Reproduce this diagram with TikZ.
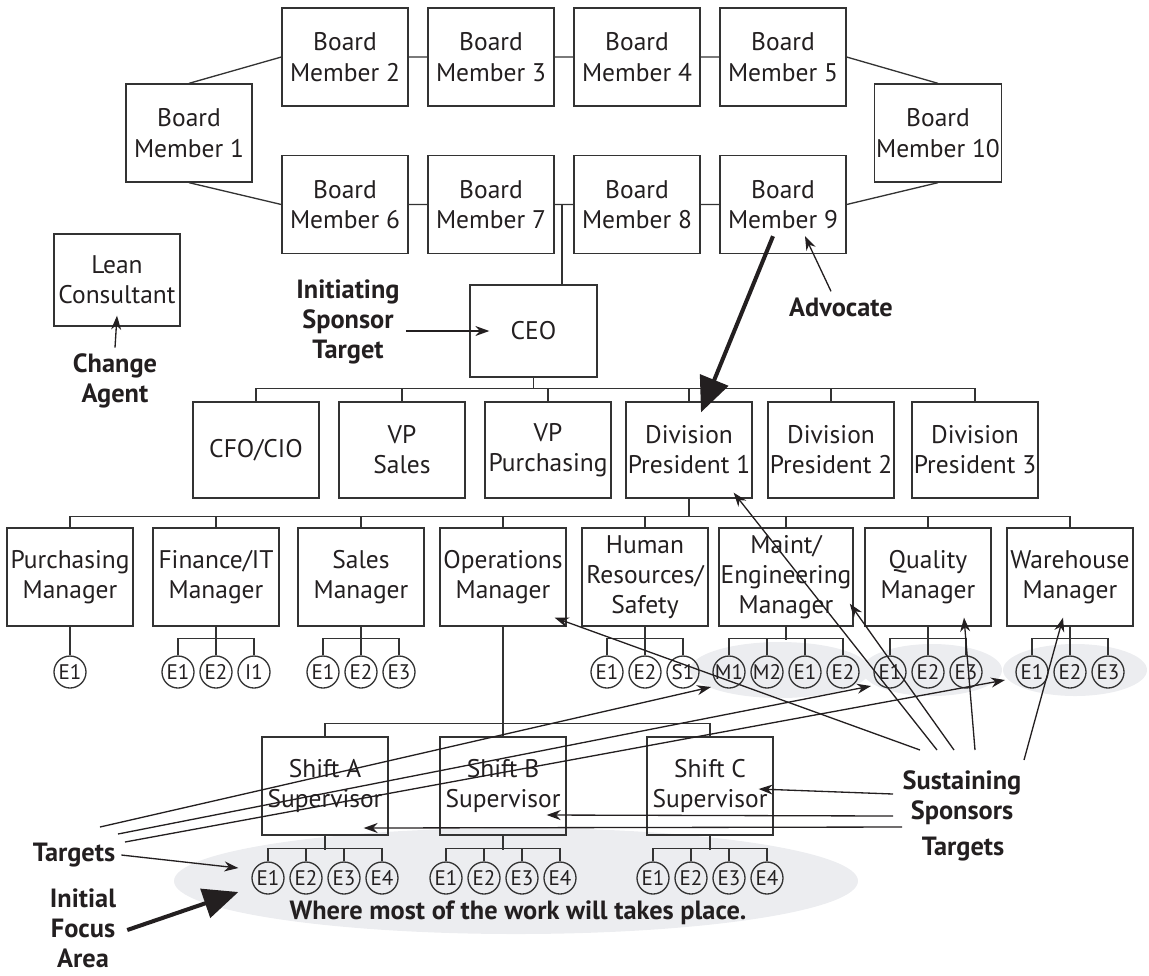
\documentclass[tikz,border=0pt]{standalone}
\usepackage{fontspec}
\setmainfont{PT Sans}
\usetikzlibrary{arrows.meta,calc,shapes.geometric}
\definecolor{orgink}{HTML}{231F20}
\definecolor{orgline}{HTML}{333333}
\definecolor{orgmist}{HTML}{ECEDF0}
\tikzset{
  post/.style={rectangle,draw=orgline,line width=.75pt,minimum width=2.52cm,minimum height=1.96cm,inner sep=1pt,align=center,text=orgink,font=\fontsize{14.5}{17}\selectfont},
  board/.style={post,font=\fontsize{14.5}{17.5}\selectfont},
  worker/.style={circle,draw=orgline,line width=.75pt,minimum size=6.4mm,inner sep=0pt,text=orgink,font=\fontsize{12}{13}\selectfont},
  link/.style={draw=orgline,line width=.75pt},
  pointer/.style={-{Stealth[length=2.8mm,width=2mm]},draw=orgink,line width=.75pt},
  push/.style={-{Triangle[length=7mm,width=6mm]},draw=orgink,line width=2.3pt},
  role/.style={font=\bfseries\fontsize{15}{17}\selectfont,text=orgink,align=center},
  mist/.style={fill=orgmist},
}
\begin{document}
\begin{tikzpicture}
  \useasboundingbox (0,0) rectangle (22.98,-19.50);
  % grey focus areas
  \fill[mist] (10.32,-17.62) ellipse [x radius=6.84,y radius=1.06];
  \fill[mist] (15.60,-13.40) ellipse [x radius=1.80,y radius=0.56];
  \fill[mist] (18.64,-13.40) ellipse [x radius=1.40,y radius=0.52];
  \fill[mist] (21.50,-13.40) ellipse [x radius=1.44,y radius=0.52];

  % board of directors
  \node[board] (bm1) at (3.78,-2.66) {Board\\Member 1};
  \node[board] (bm2) at (6.90,-1.14) {Board\\Member 2};
  \node[board] (bm3) at (9.82,-1.14) {Board\\Member 3};
  \node[board] (bm4) at (12.74,-1.14) {Board\\Member 4};
  \node[board] (bm5) at (15.66,-1.14) {Board\\Member 5};
  \node[board] (bm10) at (18.76,-2.66) {Board\\Member 10};
  \node[board] (bm6) at (6.90,-4.09) {Board\\Member 6};
  \node[board] (bm7) at (9.82,-4.09) {Board\\Member 7};
  \node[board] (bm8) at (12.74,-4.09) {Board\\Member 8};
  \node[board] (bm9) at (15.66,-4.09) {Board\\Member 9};
  \draw[link] (bm1.north) -- (bm2.west) (bm2) -- (bm3) (bm3) -- (bm4) (bm4) -- (bm5) (bm5.east) -- (bm10.north);
  \draw[link] (bm1.south) -- (bm6.west) (bm6) -- (bm7) (bm7) -- (bm8) (bm8) -- (bm9) (bm9.east) -- (bm10.south);

  \node[post,minimum height=1.84cm] (lean) at (2.34,-5.60) {Lean\\Consultant};
  \node[post,minimum width=2.54cm,minimum height=1.84cm] (ceo) at (10.67,-6.62) {CEO};
  \draw[link] ($(bm7.east)!.4!(bm8.west)$) coordinate (bmjoin) -- (bmjoin |- ceo.north);

  % executives
  \node[post,minimum height=1.92cm] (cfo) at (5.12,-9.00) {CFO/CIO};
  \node[post,minimum height=1.92cm] (vps) at (8.04,-9.00) {VP\\Sales};
  \node[post,minimum height=1.92cm] (vpp) at (10.96,-9.00) {VP\\Purchasing};
  \node[post,minimum height=1.92cm] (dp1) at (13.78,-9.00) {Division\\President 1};
  \node[post,minimum height=1.92cm] (dp2) at (16.62,-9.00) {Division\\President 2};
  \node[post,minimum height=1.92cm] (dp3) at (19.50,-9.00) {Division\\President 3};
  \draw[link] (ceo.south) -- ++(0,-0.22) coordinate (ceobus);
  \draw[link] (cfo.north) |- (dp3.north |- ceobus) -- (dp3.north);
  \draw[link] (vps.north) -- (vps.north |- ceobus) (vpp.north) -- (vpp.north |- ceobus) (dp1.north) -- (dp1.north |- ceobus) (dp2.north) -- (dp2.north |- ceobus);

  % managers
  \node[post] (pur) at (1.40,-11.54) {Purchasing\\Manager};
  \node[post] (fin) at (4.32,-11.54) {Finance/IT\\Manager};
  \node[post] (sal) at (7.22,-11.54) {Sales\\Manager};
  \node[post] (ops) at (10.06,-11.54) {Operations\\Manager};
  \node[post] (hr) at (12.90,-11.54) {Human\\Resources/\\Safety};
  \node[post] (mnt) at (15.72,-11.54) {Maint/\\Engineering\\Manager};
  \node[post] (qua) at (18.56,-11.54) {Quality\\Manager};
  \node[post] (wh) at (21.40,-11.54) {Warehouse\\Manager};
  \draw[link] (dp1.south) -- ++(0,-0.36) coordinate (dpbus);
  \draw[link] (pur.north) |- (wh.north |- dpbus) -- (wh.north);
  \draw[link] (fin.north) -- (fin.north |- dpbus) (sal.north) -- (sal.north |- dpbus) (ops.north) -- (ops.north |- dpbus) (hr.north) -- (hr.north |- dpbus) (mnt.north) -- (mnt.north |- dpbus) (qua.north) -- (qua.north |- dpbus);

  % employees under the managers
  \node[worker] (pur1) at (1.40,-13.44) {E1};
  \node[worker] (fin1) at (3.56,-13.44) {E1}; \node[worker] (fin2) at (4.32,-13.44) {E2}; \node[worker] (fin3) at (5.08,-13.44) {I1};
  \node[worker] (sal1) at (6.46,-13.44) {E1}; \node[worker] (sal2) at (7.22,-13.44) {E2}; \node[worker] (sal3) at (7.98,-13.44) {E3};
  \node[worker] (hr1) at (12.14,-13.44) {E1}; \node[worker] (hr2) at (12.90,-13.44) {E2}; \node[worker] (hr3) at (13.66,-13.44) {S1};
  \node[worker] (mnt1) at (14.58,-13.44) {M1}; \node[worker] (mnt2) at (15.34,-13.44) {M2}; \node[worker] (mnt3) at (16.10,-13.44) {E1}; \node[worker] (mnt4) at (16.86,-13.44) {E2};
  \node[worker] (qua1) at (17.80,-13.44) {E1}; \node[worker] (qua2) at (18.56,-13.44) {E2}; \node[worker] (qua3) at (19.32,-13.44) {E3};
  \node[worker] (wh1) at (20.64,-13.44) {E1}; \node[worker] (wh2) at (21.40,-13.44) {E2}; \node[worker] (wh3) at (22.16,-13.44) {E3};
  \draw[link] (pur) -- (pur1);
  \draw[link] (fin) -- (fin2) (fin1.north) -- ++(0,0.34) -| (fin3.north);
  \draw[link] (sal) -- (sal2) (sal1.north) -- ++(0,0.34) -| (sal3.north);
  \draw[link] (hr) -- (hr2) (hr1.north) -- ++(0,0.34) -| (hr3.north);
  \draw[link] (mnt.south) -- ++(0,-0.26) (mnt1.north) -- ++(0,0.34) -| (mnt4.north) (mnt2.north) -- ++(0,0.34) (mnt3.north) -- ++(0,0.34);
  \draw[link] (qua) -- (qua2) (qua1.north) -- ++(0,0.34) -| (qua3.north);
  \draw[link] (wh) -- (wh2) (wh1.north) -- ++(0,0.34) -| (wh3.north);

  % shift supervisors
  \node[post] (sa) at (6.50,-15.72) {Shift A\\Supervisor};
  \node[post] (sb) at (10.06,-15.72) {Shift B\\Supervisor};
  \node[post] (sc) at (14.20,-15.72) {Shift C\\Supervisor};
  \draw[link] (ops) -- (sb);
  \path (ops.south) ++(0,-1.94) coordinate (opsbus);
  \draw[link] (sa.north) |- (sc.north |- opsbus) -- (sc.north);
  \node[worker] (sa1) at (5.36,-17.56) {E1}; \node[worker] (sa2) at (6.12,-17.56) {E2}; \node[worker] (sa3) at (6.88,-17.56) {E3}; \node[worker] (sa4) at (7.64,-17.56) {E4};
  \node[worker] (sb1) at (8.92,-17.56) {E1}; \node[worker] (sb2) at (9.68,-17.56) {E2}; \node[worker] (sb3) at (10.44,-17.56) {E3}; \node[worker] (sb4) at (11.20,-17.56) {E4};
  \node[worker] (sc1) at (13.06,-17.56) {E1}; \node[worker] (sc2) at (13.82,-17.56) {E2}; \node[worker] (sc3) at (14.58,-17.56) {E3}; \node[worker] (sc4) at (15.34,-17.56) {E4};
  \draw[link] (sa.south) -- ++(0,-0.28) (sa1.north) -- ++(0,0.26) -| (sa4.north) (sa2.north) -- ++(0,0.26) (sa3.north) -- ++(0,0.26);
  \draw[link] (sb.south) -- ++(0,-0.28) (sb1.north) -- ++(0,0.26) -| (sb4.north) (sb2.north) -- ++(0,0.26) (sb3.north) -- ++(0,0.26);
  \draw[link] (sc.south) -- ++(0,-0.28) (sc1.north) -- ++(0,0.26) -| (sc4.north) (sc2.north) -- ++(0,0.26) (sc3.north) -- ++(0,0.26);
  \node[role] (worklbl) at (10.36,-18.26) {Where most of the work will takes place.};

  % roles
  \node[role] (initlbl) at (6.96,-6.44) {Initiating\\Sponsor\\Target};
  \draw[pointer] (initlbl.east |- ceo.west) -- ([xshift=4mm]ceo.west);
  \node[role] (agentlbl) at (2.30,-7.62) {Change\\Agent};
  \draw[pointer] (agentlbl.north) -- ([yshift=2.2mm]lean.south);
  \node[role] (advlbl) at (16.82,-6.14) {Advocate};
  \draw[pointer] ([xshift=-2mm]advlbl.north) -- ([xshift=4.4mm,yshift=3.6mm]bm9.south);
  \draw[push] ([xshift=-2mm,yshift=3.6mm]bm9.south) -- ([xshift=2.4mm,yshift=-2.2mm]dp1.north);

  \node[role] (suslbl) at (19.24,-15.96) {Sustaining\\Sponsors};
  \node[role] (sustgt) at (19.26,-16.98) {Targets};
  \coordinate (s1) at (18.40,-15.00);
  \coordinate (s2) at (18.74,-15.00);
  \coordinate (s3) at (19.08,-15.00);
  \coordinate (s4) at (19.50,-15.00);
  \coordinate (s5) at (20.48,-15.20);
  \draw[pointer] (s1) -- ([shift={(-0.24,0.18)}]ops.south east);
  \draw[pointer] (s2) -- ([shift={(-0.38,0.12)}]dp1.south east);
  \draw[pointer] (s3) -- ([shift={(-0.08,0.46)}]mnt.south east);
  \draw[pointer] (s4) -- ([shift={(0.72,0.18)}]qua.south);
  \draw[pointer] (s5) -- ([shift={(-0.14,0.18)}]wh.south);
  \coordinate (s6) at (17.86,-15.88);
  \coordinate (s7) at (17.86,-16.32);
  \coordinate (s8) at (18.04,-16.54);
  \draw[pointer] (s6) -- ([shift={(-0.30,-0.06)}]sc.east);
  \draw[pointer] (s7) -- ([shift={(-0.40,-0.58)}]sb.east);
  \draw[pointer] (s8) -- ([shift={(-0.50,-0.84)}]sa.east);

  \node[role] (tgtlbl) at (1.48,-17.10) {Targets};
  \draw[pointer] (tgtlbl.east) -- ([shift={(-0.26,0.2)}]sa1.west);
  \coordinate (t1) at (2.00,-16.54);
  \coordinate (t2) at (2.36,-16.68);
  \coordinate (t3) at (2.50,-16.84);
  \draw[pointer] (t1) -- ([shift={(-0.36,-0.30)}]mnt1.center);
  \draw[pointer] (t2) -- ([shift={(-0.38,-0.28)}]qua1.center);
  \draw[pointer] (t3) -- ([shift={(-0.54,-0.16)}]wh1.center);

  \node[role] (focuslbl) at (1.66,-18.56) {Initial\\Focus\\Area};
  \draw[push] ([xshift=1mm,yshift=-0.4mm]focuslbl.east) -- ([shift={(-0.26,-0.28)}]sa1.west);
\end{tikzpicture}
\end{document}
